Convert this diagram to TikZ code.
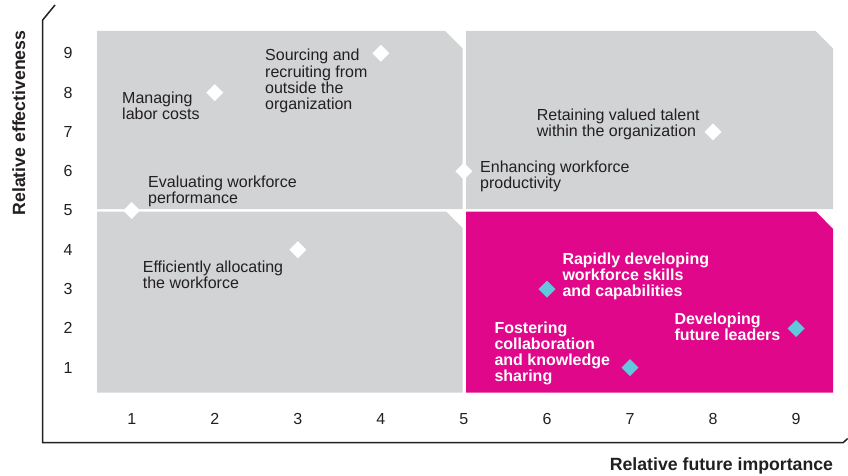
\documentclass[tikz,border=0pt]{standalone}
\usepackage{fontspec}
\setmainfont{Liberation Sans}
\usetikzlibrary{shapes.geometric}
\definecolor{quadgray}{HTML}{D1D3D4}
\definecolor{hotmagenta}{HTML}{E0078A}
\definecolor{ptcyan}{HTML}{63C7DB}
\definecolor{inktext}{HTML}{231F20}
\tikzset{
  quad/.style={fill=quadgray, draw=none},
  hotquad/.style={fill=hotmagenta, draw=none},
  axisline/.style={draw=inktext, line width=1.5pt},
  pt/.style={diamond, aspect=1, minimum width=17pt, minimum height=17pt, inner sep=0pt, outer sep=0pt, fill=white, draw=none},
  hotpt/.style={pt, fill=ptcyan},
  lbl/.style={anchor=base west, align=left, inner sep=0pt, text=inktext, font=\fontsize{16}{16.2}\selectfont},
  hotlbl/.style={lbl, text=white, font=\fontsize{16}{16}\selectfont\bfseries},
  tick/.style={inner sep=0pt, text=inktext, font=\fontsize{16}{16}\selectfont},
  axtitle/.style={inner sep=0pt, text=inktext, font=\fontsize{17.7}{18}\selectfont\bfseries}
}
\begin{document}
\begin{tikzpicture}[x=1pt, y=-1pt]
\useasboundingbox (0,0) rectangle (848,476);
% quadrants
\path[quad] (97,31) -- (445,31) -- (462.5,48.5) -- (462.5,209) -- (97,209) -- cycle;
\path[quad] (466,31) -- (815.5,31) -- (833,48.5) -- (833,209) -- (466,209) -- cycle;
\path[quad] (97,211.5) -- (446,211.5) -- (462.5,228) -- (462.5,392.5) -- (97,392.5) -- cycle;
\path[hotquad] (466,211.5) -- (816,211.5) -- (833,229) -- (833,392.5) -- (466,392.5) -- cycle;
% axes
\coordinate (atop) at (55,5);
\coordinate (abend) at (42.7,20);
\coordinate (acorner) at (42.7,442.5);
\coordinate (aright) at (843.3,442.5);
\coordinate (aend) at (847.7,438.5);
\draw[axisline] (atop) -- (abend) -- (acorner) -- (aright) -- (aend);
% tick labels
\foreach \v in {1,...,9} {
  \node[tick] (yt\v) at (68,{210.5-(\v-5)*39.3}) {\v};
  \node[tick] (xt\v) at ({131.7+(\v-1)*83.05},419) {\v};
}
% points
\begin{scope}[shift={(48.65,407)}, x=83.05pt, y=39.3pt]
  \node[pt] (pEval) at (1,5) {};
  \node[pt] (pLabor) at (2,8) {};
  \node[pt] (pSourcing) at (4,9) {};
  \node[pt] (pEnhance) at (5,6) {};
  \node[pt] (pRetain) at (8,7) {};
  \node[pt] (pAlloc) at (3,4) {};
  \node[hotpt] (pRapid) at (6,3) {};
  \node[hotpt] (pFoster) at (7,1) {};
  \node[hotpt] (pLeaders) at (9,2) {};
\end{scope}
% labels (anchor = baseline of the last line)
\node[lbl] (tSourcing) at (265,109.5) {Sourcing and\\recruiting from\\outside the\\organization};
\node[lbl] (tLabor) at (122,119.2) {Managing\\labor costs};
\node[lbl] (tEval) at (148,203.5) {Evaluating workforce\\performance};
\node[lbl] (tRetain) at (536.7,136.7) {Retaining valued talent\\within the organization};
\node[lbl] (tEnhance) at (480,188.2) {Enhancing workforce\\productivity};
\node[lbl] (tAlloc) at (142.7,288.9) {Efficiently allocating\\the workforce};
\node[hotlbl] (tRapid) at (562.3,296.3) {Rapidly developing\\workforce skills\\and capabilities};
\node[hotlbl] (tFoster) at (494.3,381.3) {Fostering\\collaboration\\and knowledge\\sharing};
\node[hotlbl] (tLeaders) at (674.3,340) {Developing\\future leaders};
% axis titles
\node[axtitle, anchor=base east] (xtitle) at (833.3,470) {Relative future importance};
\node[axtitle, anchor=base, rotate=90] (ytitle) at (25,123) {Relative effectiveness};
\end{tikzpicture}
\end{document}
